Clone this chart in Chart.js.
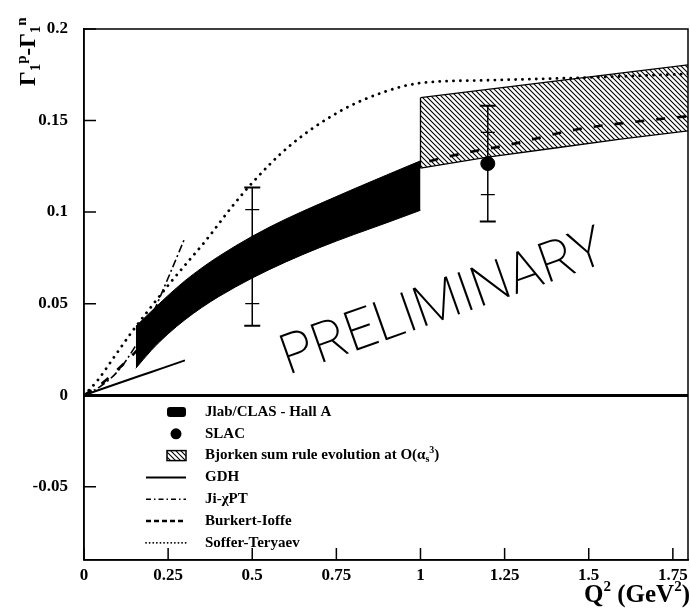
<!DOCTYPE html>
<html>
<head>
<meta charset="utf-8">
<script src="https://cdn.jsdelivr.net/npm/chart.js@4.4.1/dist/chart.umd.min.js"></script>
<style>
  html, body { margin: 0; padding: 0; background: #fff; }
  #wrap { width: 690px; height: 611px; }
</style>
</head>
<body>
<div id="wrap"><canvas id="myChart" width="690" height="611"></canvas></div>
<script>
// axis ticks
const xTicks = [0, 0.25, 0.5, 0.75, 1, 1.25, 1.5, 1.75];
const yTicks = [-0.05, 0, 0.05, 0.1, 0.15, 0.2];

// Jlab/CLAS - Hall A band
const jlabQ2 = [0.154, 0.2, 0.25, 0.3, 0.35, 0.4, 0.5, 0.6, 0.7, 0.8, 0.9, 1.0];
const jlabUpper = [0.0376, 0.0458, 0.0545, 0.0625, 0.0695, 0.0758, 0.0868, 0.0962, 0.1045, 0.1125, 0.1203, 0.128];
const jlabLower = [0.0147, 0.0245, 0.0335, 0.0412, 0.0479, 0.0538, 0.064, 0.0728, 0.0806, 0.0876, 0.0942, 0.101];

// SLAC points (stat and total errors)
const slacQ2 = [0.5, 1.2];
const slacValue = [0.0757, 0.1265];
const slacStat = [0.0257, 0.017];
const slacTotal = [0.0377, 0.0316];

// Bjorken sum rule evolution band
const bjorkenQ2 = [1.0, 1.2, 1.4, 1.6, 1.8];
const bjorkenUpper = [0.1625, 0.167, 0.1715, 0.176, 0.1805];
const bjorkenLower = [0.124, 0.130, 0.135, 0.140, 0.1445];

// model curves
const gdhQ2 = [0, 0.1, 0.2, 0.3];
const gdh = [0, 0.0064, 0.0127, 0.019];
const jiQ2 = [0, 0.05, 0.1, 0.15, 0.2, 0.25, 0.3];
const ji = [0, 0.005, 0.013, 0.026, 0.043, 0.064, 0.086];
const burkertQ2 = [0, 0.05, 0.1, 0.15, 0.2, 0.3, 0.5, 0.7, 0.85, 1.0, 1.1, 1.27, 1.46, 1.67, 1.8];
const burkert = [0, 0.006, 0.014, 0.023, 0.033, 0.05, 0.075, 0.095, 0.11, 0.126, 0.131, 0.137, 0.145, 0.150, 0.1525];
const sofferQ2 = [0, 0.04, 0.09, 0.14, 0.19, 0.25, 0.3, 0.36, 0.44, 0.5, 0.61, 0.76, 0.89, 1.0, 1.2, 1.5, 1.8];
const soffer = [0, 0.008, 0.021, 0.034, 0.046, 0.06, 0.071, 0.084, 0.103, 0.116, 0.136, 0.155, 0.1655, 0.1705, 0.172, 0.1735, 0.1755];

const legendLabels = ["Jlab/CLAS - Hall A", "SLAC", "Bjorken sum rule evolution at O(α", "GDH", "Ji-χPT", "Burkert-Ioffe", "Soffer-Teryaev"];

const SERIF = "'Liberation Serif', 'Times New Roman', serif";

function pts(xs, ys) {
  return xs.map((x, i) => ({ x: x, y: ys[i] }));
}

function hatchPattern() {
  const c = document.createElement("canvas");
  c.width = 5;
  c.height = 5;
  const g = c.getContext("2d");
  g.strokeStyle = "#000";
  g.lineWidth = 1.1;
  g.beginPath();
  g.moveTo(0, 0); g.lineTo(5, 5);
  g.moveTo(-1, 4); g.lineTo(1, 6);
  g.moveTo(4, -1); g.lineTo(6, 1);
  g.stroke();
  return g.createPattern(c, "repeat");
}
const hatch = hatchPattern();

const lineStyle = {
  gdh: { borderDash: [], borderWidth: 2, borderCapStyle: "butt" },
  ji: { borderDash: [8, 3, 2, 3], borderWidth: 1.6, borderCapStyle: "butt" },
  burkert: { borderDash: [9, 12], borderWidth: 2.6, borderCapStyle: "butt" },
  soffer: { borderDash: [0.1, 6.8], borderWidth: 2.8, borderCapStyle: "round" },
};

function curve(label, xs, ys, st) {
  return {
    label: label,
    data: pts(xs, ys),
    borderColor: "#000",
    borderWidth: st.borderWidth,
    borderDash: st.borderDash,
    borderCapStyle: st.borderCapStyle,
    pointRadius: 0,
    fill: false,
    cubicInterpolationMode: "monotone",
    order: 3,
  };
}

// draws a run of [text, baseline offset, size] pieces, returns end x
function drawPieces(ctx, pieces, x, y) {
  pieces.forEach(([s, off, size]) => {
    ctx.font = "bold " + size + "px " + SERIF;
    ctx.fillText(s, x, y + off);
    x += ctx.measureText(s).width;
  });
  return x;
}

function piecesWidth(ctx, pieces) {
  let w = 0;
  pieces.forEach(([s, off, size]) => {
    ctx.font = "bold " + size + "px " + SERIF;
    w += ctx.measureText(s).width;
  });
  return w;
}

// error bars, inward ticks, frame, legend and captions
const decorations = {
  id: "decorations",
  afterDatasetsDraw(chart) {
    const ctx = chart.ctx;
    const xs = chart.scales.x, ys = chart.scales.y;
    ctx.save();
    ctx.strokeStyle = "#000";
    for (let i = 0; i < slacQ2.length; i++) {
      const px = xs.getPixelForValue(slacQ2[i]);
      const top = ys.getPixelForValue(slacValue[i] + slacTotal[i]);
      const bot = ys.getPixelForValue(slacValue[i] - slacTotal[i]);
      const st = ys.getPixelForValue(slacValue[i] + slacStat[i]);
      const sb = ys.getPixelForValue(slacValue[i] - slacStat[i]);
      ctx.lineWidth = 1.5;
      ctx.beginPath();
      ctx.moveTo(px, top); ctx.lineTo(px, bot);
      ctx.stroke();
      ctx.lineWidth = 2;
      ctx.beginPath();
      ctx.moveTo(px - 8, top); ctx.lineTo(px + 8, top);
      ctx.moveTo(px - 8, bot); ctx.lineTo(px + 8, bot);
      ctx.stroke();
      ctx.lineWidth = 1.2;
      ctx.beginPath();
      ctx.moveTo(px - 7, st); ctx.lineTo(px + 7, st);
      ctx.moveTo(px - 7, sb); ctx.lineTo(px + 7, sb);
      ctx.stroke();
    }
    ctx.restore();
  },
  afterDraw(chart) {
    const ctx = chart.ctx;
    const a = chart.chartArea;
    const xs = chart.scales.x, ys = chart.scales.y;
    ctx.save();
    ctx.strokeStyle = "#000";
    ctx.fillStyle = "#000";

    // frame
    ctx.lineWidth = 1.5;
    ctx.strokeRect(a.left, a.top, a.right - a.left, a.bottom - a.top);

    // inward ticks
    ctx.beginPath();
    xTicks.forEach(v => {
      const p = xs.getPixelForValue(v);
      ctx.moveTo(p, a.bottom); ctx.lineTo(p, a.bottom - 12);
    });
    yTicks.forEach(v => {
      const p = ys.getPixelForValue(v);
      ctx.moveTo(a.left, p); ctx.lineTo(a.left + 12, p);
    });
    ctx.stroke();

    // legend
    const lx = 205, ly0 = 412, dy = 21.8;
    ctx.textBaseline = "middle";
    ctx.textAlign = "left";
    legendLabels.forEach((t, i) => {
      const y = ly0 + i * dy;
      if (i === 2) {
        drawPieces(ctx, [[t, 0, 15], ["s", 4, 10], ["3", -5, 10], [")", 0, 15]], lx, y);
      } else {
        drawPieces(ctx, [[t, 0, 15]], lx, y);
      }
    });
    // legend symbols
    ctx.beginPath();
    ctx.roundRect(167, ly0 - 5, 19, 10, 3);
    ctx.fill();
    ctx.beginPath();
    ctx.arc(176, ly0 + dy, 5.5, 0, Math.PI * 2);
    ctx.fill();
    ctx.fillStyle = hatch;
    ctx.fillRect(167, ly0 + 2 * dy - 5, 19, 10);
    ctx.lineWidth = 1.5;
    ctx.strokeRect(167, ly0 + 2 * dy - 5, 19, 10);
    ctx.fillStyle = "#000";
    const keyDash = [[], [5, 3, 1.5, 3], [5, 3], [0.1, 3.5]];
    const keyWidth = [2, 1.6, 2.6, 1.8];
    keyDash.forEach((d, k) => {
      const y = ly0 + (3 + k) * dy;
      ctx.setLineDash(d);
      ctx.lineWidth = keyWidth[k];
      ctx.lineCap = k === 3 ? "round" : "butt";
      ctx.beginPath();
      ctx.moveTo(146, y); ctx.lineTo(186, y);
      ctx.stroke();
    });
    ctx.setLineDash([]);
    ctx.lineCap = "butt";

    // y axis title
    ctx.save();
    ctx.translate(35, 86);
    ctx.rotate(-Math.PI / 2);
    ctx.textBaseline = "alphabetic";
    drawPieces(ctx, [["Γ", 0, 23], ["1", 5, 15], ["p", -9, 15], ["-Γ", 0, 23], ["1", 5, 15], ["n", -9, 15]], 0, 0);
    ctx.restore();

    // x axis title
    const xparts = [["Q", 0, 25], ["2", -11, 15], [" (GeV", 0, 25], ["2", -11, 15], [")", 0, 25]];
    ctx.textBaseline = "alphabetic";
    drawPieces(ctx, xparts, 690 - piecesWidth(ctx, xparts), 602);

    // watermark
    ctx.save();
    ctx.translate(288, 375);
    ctx.rotate(-19.5 * Math.PI / 180);
    ctx.font = "200 56px Roboto, 'DejaVu Sans', sans-serif";
    ctx.textBaseline = "alphabetic";
    const mw = ctx.measureText("PRELIMINARY").width;
    ctx.scale(340 / mw, 1);
    ctx.fillText("PRELIMINARY", 0, 0);
    ctx.restore();

    ctx.restore();
  },
};

const ctx = document.getElementById("myChart");

new Chart(ctx, {
  type: "line",
  data: {
    datasets: [
      {
        label: "SLAC",
        data: pts(slacQ2, slacValue),
        showLine: false,
        pointRadius: 7,
        pointBackgroundColor: "#000",
        pointBorderColor: "#000",
        order: 0,
      },
      {
        label: "Jlab/CLAS - Hall A",
        data: pts(jlabQ2, jlabUpper),
        borderColor: "#000",
        borderWidth: 1,
        backgroundColor: "#000",
        pointRadius: 0,
        fill: { target: 2 },
        cubicInterpolationMode: "monotone",
        order: 1,
      },
      {
        label: "jlab lower",
        data: pts(jlabQ2, jlabLower),
        borderColor: "#000",
        borderWidth: 1,
        pointRadius: 0,
        fill: false,
        cubicInterpolationMode: "monotone",
        order: 1,
      },
      curve("GDH", gdhQ2, gdh, lineStyle.gdh),
      curve("Ji-χPT", jiQ2, ji, lineStyle.ji),
      curve("Burkert-Ioffe", burkertQ2, burkert, lineStyle.burkert),
      curve("Soffer-Teryaev", sofferQ2, soffer, lineStyle.soffer),
      {
        label: "Bjorken sum rule evolution",
        data: pts(bjorkenQ2, bjorkenUpper),
        borderColor: "#000",
        borderWidth: 1.3,
        backgroundColor: hatch,
        pointRadius: 0,
        fill: { target: 8 },
        order: 5,
      },
      {
        label: "bjorken lower",
        data: pts(bjorkenQ2, bjorkenLower),
        borderColor: "#000",
        borderWidth: 1.3,
        pointRadius: 0,
        fill: false,
        order: 5,
      },
      {
        label: "bjorken edge",
        data: [{ x: bjorkenQ2[0], y: bjorkenLower[0] }, { x: bjorkenQ2[0], y: bjorkenUpper[0] }],
        borderColor: "#000",
        borderWidth: 1.3,
        pointRadius: 0,
        fill: false,
        order: 5,
      },
    ],
  },
  options: {
    responsive: false,
    animation: false,
    layout: { autoPadding: false, padding: { top: 29, right: 2, left: 0, bottom: 0 } },
    plugins: {
      legend: { display: false },
      tooltip: { enabled: false },
      title: { display: false },
    },
    scales: {
      x: {
        type: "linear",
        min: 0,
        max: 1.795,
        afterBuildTicks: (s) => { s.ticks = xTicks.map(v => ({ value: v })); },
        afterFit: (s) => { s.height = 51; s.paddingLeft = 0; s.paddingRight = 0; },
        grid: { display: false, drawTicks: false },
        border: { display: true, color: "#000", width: 1.5 },
        ticks: {
          color: "#000",
          padding: 5,
          maxRotation: 0,
          autoSkip: false,
          font: { family: SERIF, size: 17, weight: "bold" },
          callback: (v) => String(v),
        },
      },
      y: {
        min: -0.09,
        max: 0.2,
        afterBuildTicks: (s) => { s.ticks = yTicks.map(v => ({ value: v })); },
        afterFit: (s) => { s.width = 84; s.paddingTop = 0; s.paddingBottom = 0; },
        grid: {
          drawTicks: false,
          color: (c) => (c.tick && c.tick.value === 0 ? "#000" : "rgba(0,0,0,0)"),
          lineWidth: (c) => (c.tick && c.tick.value === 0 ? 3 : 0),
        },
        border: { display: true, color: "#000", width: 1.5 },
        ticks: {
          color: "#000",
          padding: 16,
          autoSkip: false,
          font: { family: SERIF, size: 17, weight: "bold" },
          callback: (v) => String(v),
        },
      },
    },
  },
  plugins: [decorations],
});
</script>
</body>
</html>
